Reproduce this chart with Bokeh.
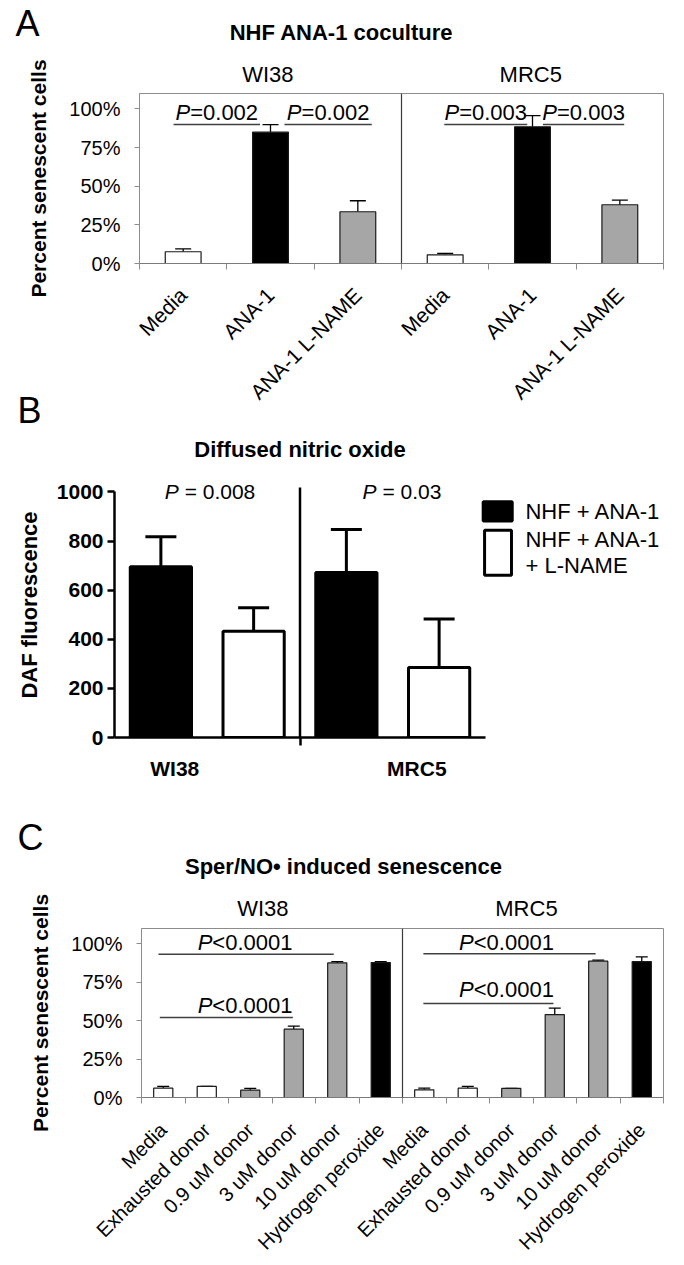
import math
from bokeh.plotting import figure
from bokeh.models import (ColumnDataSource, Whisker, TeeHead, FixedTicker, Span,
                          PrintfTickFormatter, Range1d, LinearAxis)
from bokeh.embed import file_html
from bokeh.resources import INLINE
from bokeh.core.properties import value

FONT = "Liberation Sans"
W = 684

# ------------------------------------------------------------------ data
# Panel A: NHF ANA-1 coculture (percent senescent cells)
a_title = "NHF ANA-1 coculture"
a_cell_lines = ["WI38", "MRC5"]
a_categories = ["Media", "ANA-1", "ANA-1 L-NAME"]
a_wi38 = [7.6, 85.0, 33.5]
a_wi38_err = [1.8, 4.8, 7.1]
a_mrc5 = [5.6, 88.5, 38.0]
a_mrc5_err = [1.0, 7.2, 3.0]
a_colors = ["white", "black", "#a6a6a6"]
a_p_text = ["P=0.002", "P=0.002", "P=0.003", "P=0.003"]
a_p_from = [0.39, 1.66, 3.49, 4.62]
a_p_to = [1.38, 2.66, 4.44, 5.55]
a_p_line_y = [89.9, 89.9, 89.9, 89.9]
a_p_text_y = [97.9, 97.9, 97.9, 97.9]

# Panel B: Diffused nitric oxide (DAF fluorescence)
b_title = "Diffused nitric oxide"
b_groups = ["WI38", "MRC5"]
b_series = ["NHF + ANA-1", "NHF + ANA-1\n+ L-NAME"]
b_ana = [695, 672]
b_ana_err = [122, 175]
b_lname = [433, 285]
b_lname_err = [95, 197]
b_p_text = ["P = 0.008", "P = 0.03"]
b_p_x = [1.53, 3.6]
b_p_y = [1003, 1003]

# Panel C: Sper/NO induced senescence (percent senescent cells)
c_title = "Sper/NO\u2022 induced senescence"
c_cell_lines = ["WI38", "MRC5"]
c_categories = ["Media", "Exhausted donor", "0.9 uM donor", "3 uM donor",
                "10 uM donor", "Hydrogen peroxide"]
c_wi38 = [6.1, 7.2, 4.8, 44.5, 87.6, 87.8]
c_wi38_err = [1.1, 0.0, 1.1, 2.0, 0.9, 0.7]
c_mrc5 = [5.0, 6.1, 5.9, 54.0, 88.7, 88.5]
c_mrc5_err = [1.1, 1.1, 0.0, 4.2, 0.7, 3.0]
c_colors = ["white", "white", "#a6a6a6", "#a6a6a6", "#a6a6a6", "black"]
c_p_text = ["P<0.0001", "P<0.0001", "P<0.0001", "P<0.0001"]
c_p_from = [0.39, 0.42, 6.48, 6.48]
c_p_to = [4.42, 3.48, 10.44, 9.47]
c_p_line_y = [93.3, 52.0, 93.5, 61.2]
c_p_text_x = [2.38, 2.38, 8.39, 8.39]
c_p_text_y = [100.7, 60.0, 100.8, 70.4]

pct_ticks = [0, 25, 50, 75, 100]
b_ticks = [0, 200, 400, 600, 800, 1000]

# ------------------------------------------------------------------ helpers
ARIAL = {"P": 667, "=": 584, "<": 584, ".": 278, " ": 278, "\u00a0": 278}


def text_w(s, size):
    return sum(ARIAL.get(ch, 556) for ch in s) * size / 1000.0


def p_label(p, xs, ys, texts, size):
    heads = [t[0] for t in texts]
    rests = [t[1:] for t in texts]
    offs = [(text_w(h, size) - text_w(r, size)) / 2.0 for h, r in zip(heads, rests)]
    src = ColumnDataSource(dict(x=xs, y=ys, head=heads, rest=rests, off=offs))
    fs = f"{size}px"
    p.text(x="x", y="y", text="head", x_offset="off", source=src, text_align="right",
           text_baseline="middle", text_font=value(FONT), text_font_style="italic",
           text_font_size=fs, text_color="black")
    p.text(x="x", y="y", text="rest", x_offset="off", source=src, text_align="left",
           text_baseline="middle", text_font=value(FONT), text_font_size=fs,
           text_color="black")


def header(height, items, overlap=0):
    """Strip above a panel: panel letter and title (pixel layout)."""
    h = figure(width=W, height=height, x_range=Range1d(0, W), y_range=Range1d(height, 0),
               output_backend="svg", toolbar_location=None, min_border=0,
               x_axis_type=None, y_axis_type=None)
    h.outline_line_color = None
    h.background_fill_color = None
    h.border_fill_color = None
    if overlap:
        h.margin = (-overlap, 0, 0, 0)
    for x, y, txt, size, style, align in items:
        h.text(x=[x], y=[y], text=[txt], text_font=value(FONT), text_font_size=size,
               text_font_style=style, text_align=align, text_baseline="middle",
               text_color="black")
    return h


def base_fig(height, xr, yr, left, right, top, bottom):
    p = figure(width=W, height=height, x_range=Range1d(*xr), y_range=Range1d(*yr),
               output_backend="svg", toolbar_location=None,
               min_border_left=left, min_border_right=right,
               min_border_top=top, min_border_bottom=bottom)
    p.xgrid.visible = False
    p.ygrid.visible = False
    p.background_fill_color = "white"
    p.border_fill_color = "white"
    return p


def senescence_panel(height, left, right, top, bottom, cats, s1, e1, s2, e2, colors,
                     bar_w, tee, label_size, standoff, lines, line_pos, line_standoff):
    n = len(cats)
    ncat = 2 * n
    p = base_fig(height, (0, ncat), (0, 110), left, right, top, bottom)
    p.outline_line_color = "#8c8c8c"
    p.outline_line_width = 1
    xs = [i + 0.5 for i in range(ncat)]
    tops = list(s1) + list(s2)
    errs = list(e1) + list(e2)
    src = ColumnDataSource(dict(x=xs, top=tops, upper=[t + e for t, e in zip(tops, errs)],
                                color=list(colors) * 2))
    p.vbar(x="x", top="top", bottom=0, width=bar_w, fill_color="color",
           line_color="#1a1a1a", line_width=1.2, source=src)
    p.add_layout(Whisker(base="x", lower="top", upper="upper", source=src,
                         dimension="height", line_color="black", line_width=1.3,
                         upper_head=TeeHead(size=tee, line_color="black", line_width=1.3),
                         lower_head=None))
    p.add_layout(Span(location=n, dimension="height", line_color="#3a3a3a", line_width=1.2))
    xa = p.xaxis[0]
    xa.ticker = FixedTicker(ticks=xs, minor_ticks=list(range(ncat + 1)))
    xa.major_label_overrides = {x: c for x, c in zip(xs, list(cats) * 2)}
    xa.major_label_orientation = math.pi / 4
    xa.major_tick_out = 0
    xa.major_tick_in = 0
    xa.minor_tick_out = 6
    xa.minor_tick_in = 0
    xa.minor_tick_line_color = "#8c8c8c"
    xa.axis_line_color = "#7a7a7a"
    xa.major_label_text_font = FONT
    xa.major_label_text_font_size = label_size
    xa.major_label_text_color = "black"
    xa.major_label_standoff = standoff
    # cell-line captions above the box
    top_axis = LinearAxis(ticker=FixedTicker(ticks=line_pos, minor_ticks=[]),
                          major_label_overrides={x: t for x, t in zip(line_pos, lines)},
                          axis_line_color=None, major_tick_line_color=None,
                          minor_tick_line_color=None, major_tick_out=0, major_tick_in=0,
                          major_label_standoff=line_standoff,
                          major_label_text_font=FONT, major_label_text_font_size="22px",
                          major_label_text_color="black")
    p.add_layout(top_axis, "above")
    ya = p.yaxis[0]
    ya.ticker = FixedTicker(ticks=pct_ticks, minor_ticks=[])
    ya.formatter = PrintfTickFormatter(format="%d%%")
    ya.axis_line_color = "#8c8c8c"
    ya.major_tick_out = 5
    ya.major_tick_in = 0
    ya.major_tick_line_color = "#8c8c8c"
    ya.major_label_text_font = FONT
    ya.major_label_text_font_size = "20px"
    ya.major_label_text_color = "black"
    ya.major_label_standoff = 14
    ya.axis_label = "Percent senescent cells"
    ya.axis_label_text_font = FONT
    ya.axis_label_text_font_size = "21px"
    ya.axis_label_text_font_style = "bold"
    ya.axis_label_text_color = "black"
    ya.axis_label_standoff = 16
    return p


# ------------------------------------------------------------------ panel A
hA = header(45, [
    (15, 23, "A", "36px", "normal", "left"),
    (341, 32, a_title, "22px", "bold", "center"),
])
pA = senescence_panel(378, 139, 21, 48, 160, a_categories, a_wi38, a_wi38_err,
                      a_mrc5, a_mrc5_err, a_colors, 0.41, 16, "21px", 22,
                      a_cell_lines, [1.47, 4.48], 7)
pA.segment(x0=a_p_from, y0=a_p_line_y, x1=a_p_to, y1=a_p_line_y, line_color="#404040",
           line_width=1.5)
p_label(pA, [(a + b) / 2 for a, b in zip(a_p_from, a_p_to)], a_p_text_y, a_p_text, 22)

# ------------------------------------------------------------------ panel B
B_LEFT = 114
B_SCALE = 92.75  # pixels per bar slot
# transparent strip that slides up over the bottom of panel A
hB = header(74, [
    (17, 22, "B", "36px", "normal", "left"),
    (B_LEFT + (2.5 - 0.5) * B_SCALE, 61, b_title, "22px", "bold", "center"),
], overlap=35)
pB = base_fig(328, (0.5, 0.5 + (W - B_LEFT) / B_SCALE), (0, 1079), B_LEFT, 0, 10, 53)
pB.outline_line_color = None
bx_black = [1 + 2 * i for i in range(len(b_groups))]
bx_white = [2 + 2 * i for i in range(len(b_groups))]
srcB1 = ColumnDataSource(dict(x=bx_black, top=b_ana,
                              upper=[v + e for v, e in zip(b_ana, b_ana_err)]))
srcB2 = ColumnDataSource(dict(x=bx_white, top=b_lname,
                              upper=[v + e for v, e in zip(b_lname, b_lname_err)]))
for src in (srcB1, srcB2):
    pB.add_layout(Whisker(base="x", lower="top", upper="upper", source=src,
                          dimension="height", line_color="black", line_width=3,
                          upper_head=TeeHead(size=31, line_color="black", line_width=3),
                          lower_head=None))
pB.vbar(x="x", top="top", bottom=0, width=0.66, fill_color="black", line_color="black",
        line_width=3, source=srcB1)
pB.vbar(x="x", top="top", bottom=0, width=0.66, fill_color="white", line_color="black",
        line_width=3, source=srcB2)
pB.segment(x0=[2.5], y0=[0], x1=[2.5], y1=[1018], line_color="black", line_width=2.5)
p_label(pB, b_p_x, b_p_y, [t.replace(" = ", "\u00a0=\u00a0") for t in b_p_text], 21)

xa = pB.xaxis[0]
xa.bounds = (0.5, 4.5)
xa.ticker = FixedTicker(ticks=[1.15, 3.76], minor_ticks=[2.5])
xa.major_label_overrides = {1.15: b_groups[0], 3.76: b_groups[1]}
xa.major_tick_out = 0
xa.major_tick_in = 0
xa.minor_tick_out = 8
xa.minor_tick_in = 0
xa.minor_tick_line_width = 2.5
xa.minor_tick_line_color = "black"
xa.axis_line_width = 2.5
xa.axis_line_color = "black"
xa.major_label_text_font = FONT
xa.major_label_text_font_size = "21px"
xa.major_label_text_font_style = "bold"
xa.major_label_text_color = "black"
xa.major_label_standoff = 11
ya = pB.yaxis[0]
ya.bounds = (0, 1000)
ya.ticker = FixedTicker(ticks=b_ticks, minor_ticks=[])
ya.axis_line_width = 2.5
ya.axis_line_color = "black"
ya.major_tick_out = 7
ya.major_tick_in = 0
ya.major_tick_line_width = 2.5
ya.major_tick_line_color = "black"
ya.major_label_text_font = FONT
ya.major_label_text_font_size = "21px"
ya.major_label_text_font_style = "bold"
ya.major_label_text_color = "black"
ya.major_label_standoff = 4
ya.axis_label = "DAF fluorescence"
ya.axis_label_text_font = FONT
ya.axis_label_text_font_size = "22px"
ya.axis_label_text_font_style = "bold"
ya.axis_label_text_color = "black"
ya.axis_label_standoff = 12

# legend (drawn by hand so that the second swatch spans two text lines)
leg_left = [4.475, 4.49]
leg_right = [4.788, 4.78]
leg_bottom = [882, 661]
leg_top = [960, 844]
pB.quad(left=leg_left, right=leg_right, bottom=leg_bottom, top=leg_top,
        fill_color=["black", "white"], line_color="black", line_width=3)
leg_lines = b_series[0].split("\n") + b_series[1].split("\n")
pB.text(x=[4.931] * 3, y=[922, 806, 702], text=leg_lines, text_align="left",
        text_baseline="middle", text_font=value(FONT), text_font_size="22px",
        text_color="black")

# ------------------------------------------------------------------ panel C
hC = header(95, [
    (17, 47, "C", "36px", "normal", "left"),
    (343, 76, c_title, "22px", "bold", "center"),
])
pC = senescence_panel(380, 141, 21, 43, 168, c_categories, c_wi38, c_wi38_err,
                      c_mrc5, c_mrc5_err, c_colors, 0.44, 12, "20px", 23,
                      c_cell_lines, [2.79, 8.85], 8)
pC.segment(x0=c_p_from, y0=c_p_line_y, x1=c_p_to, y1=c_p_line_y, line_color="#404040",
           line_width=1.5)
p_label(pC, c_p_text_x, c_p_text_y, c_p_text, 22)

# each strip is its own root so that their frames are not forced into alignment
roots = [hA, pA, hB, pB, hC, pC]
open("out.html", "w").write(file_html(roots, INLINE))
